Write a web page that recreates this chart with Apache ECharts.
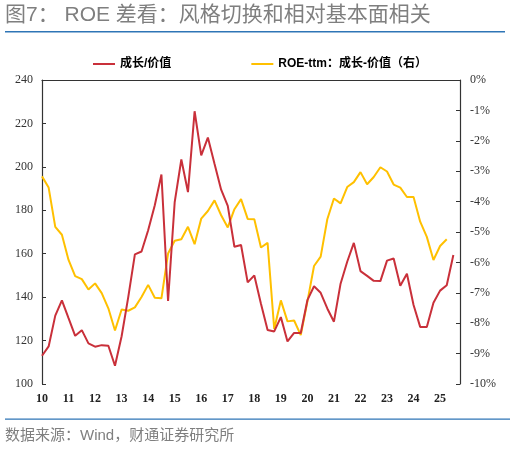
<!DOCTYPE html>
<html>
<head>
<meta charset="utf-8">
<script src="https://cdn.jsdelivr.net/npm/echarts@6/dist/echarts.min.js"></script>
<style>html,body{margin:0;padding:0;background:#fff;}#c{width:510px;height:449px;}</style>
</head>
<body>
<div id="c"></div>
<script>
var years = ['2010','2011','2012','2013','2014','2015','2016','2017','2018','2019','2020','2021','2022','2023','2024','2025'];
var quarters = ['Q1','Q2','Q3','Q4'];
var categories = [];
years.forEach(function(y){ quarters.forEach(function(q){ categories.push(y + q); }); });

var growthValue = [113,117.3,131.5,138.5,130.3,122.2,124.8,118.7,117.2,117.9,117.6,108.4,
  122,140,159.7,161,170.8,182.3,196.5,138.2,183.8,203.4,188.4,225.6,205.3,213.5,201.4,189.5,182,163.2,164,146.8,
  150,137,124.9,124.2,130.8,119.6,123.5,123.5,138.6,145,142,134.8,128.7,146.2,156.3,165,
  152,149.8,147.5,147.4,156.8,157.8,145.2,150.8,136.4,126.3,126.2,137.4,143,145.5,159.4];

var roeSpread = [-3.17,-3.54,-4.83,-5.09,-5.92,-6.45,-6.55,-6.89,-6.69,-7.01,-7.51,-8.24,
  -7.55,-7.59,-7.48,-7.14,-6.74,-7.16,-7.18,-5.71,-5.29,-5.24,-4.83,-5.40,-4.56,-4.31,-3.96,-4.45,-4.85,-4.25,-3.92,-4.57,
  -4.58,-5.51,-5.36,-8.19,-7.25,-7.94,-7.91,-8.39,-7.29,-6.12,-5.81,-4.58,-3.90,-4.06,-3.52,-3.36,
  -3.03,-3.43,-3.19,-2.87,-3.01,-3.44,-3.54,-3.85,-3.85,-4.66,-5.16,-5.92,-5.46,-5.24];

var seriesNames = ['成长/价值', 'ROE-ttm：成长-价值（右）'];

var chart = echarts.init(document.getElementById('c'));
var serif = 'Liberation Serif';
chart.setOption({
  animation: false,
  backgroundColor: '#fff',
  graphic: [
    {type:'text', left: 5, top: 5, style:{text:'图7： ROE 差看：风格切换和相对基本面相关', fill:'#7f7f7f', font:'21px "Liberation Sans","Noto Sans CJK SC"'}},
    {type:'rect', shape:{x:5, y:31, width:500, height:1.5}, style:{fill:'#2e75b6'}},
    {type:'rect', shape:{x:5, y:418.5, width:505, height:1.2}, style:{fill:'#2e75b6'}},
    {type:'text', left: 5, top: 428, style:{text:'数据来源：Wind，财通证券研究所', fill:'#7f7f7f', font:'15px "Liberation Sans","Noto Sans CJK SC"'}}
  ],
  legend: {
    left: 88, top: 53, itemGap: 80, itemWidth: 22, itemHeight: 2, itemTextGap: 3,
    icon: 'rect',
    textStyle: {fontSize: 12, fontWeight: 'bold', color: '#000', fontFamily: '"Liberation Sans","Noto Sans CJK SC"'},
    data: seriesNames
  },
  grid: {left: 42, right: 50, top: 80, bottom: 65},
  xAxis: {
    type: 'category', data: categories, boundaryGap: false,
    axisLine: {lineStyle: {color: '#333', width: 1.2}},
    axisTick: {show: false},
    axisLabel: {interval: 3, margin: 9, fontFamily: serif, fontSize: 12, fontWeight: 'bold', color: '#222',
      formatter: function(v){ return v.slice(2,4); }},
    splitLine: {show: false}
  },
  yAxis: [
    {type: 'value', min: 100, max: 240, interval: 20,
     axisLine: {show: true, lineStyle: {color: '#333', width: 1.2}},
     axisTick: {show: true, inside: true, length: 4, lineStyle: {color: '#333'}},
     axisLabel: {margin: 9, fontFamily: serif, fontSize: 12, color: '#333'},
     splitLine: {show: false}},
    {type: 'value', min: -10, max: 0, interval: 1, position: 'right',
     axisLine: {show: true, lineStyle: {color: '#333', width: 1.2}},
     axisTick: {show: true, inside: true, length: 4, lineStyle: {color: '#333'}},
     axisLabel: {margin: 10, fontFamily: serif, fontSize: 12, color: '#333', formatter: '{value}%'},
     splitLine: {show: false}}
  ],
  series: [
    {name: seriesNames[0], type: 'line', data: growthValue, yAxisIndex: 0, showSymbol: false,
     lineStyle: {color: '#C9303A', width: 2}, itemStyle: {color: '#C9303A'}, z: 3},
    {name: seriesNames[1], type: 'line', data: roeSpread, yAxisIndex: 1, showSymbol: false,
     lineStyle: {color: '#FFC000', width: 2}, itemStyle: {color: '#FFC000'}, z: 2}
  ]
});
</script>
</body>
</html>
